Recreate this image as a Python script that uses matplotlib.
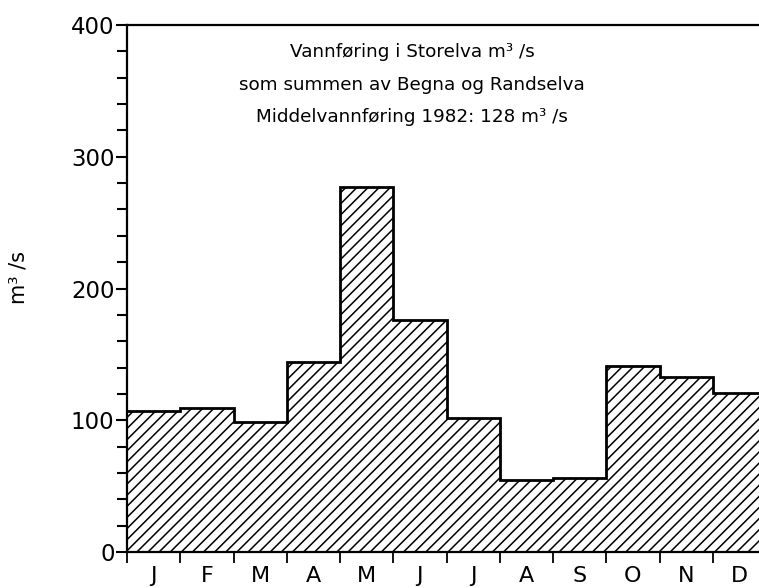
import matplotlib
matplotlib.use("Agg")
import matplotlib.pyplot as plt
import numpy as np

months: list[str] = ["J", "F", "M", "A", "M", "J", "J", "A", "S", "O", "N", "D"]
flow: list[float] = [107, 109, 99, 144, 277, 176, 102, 55, 56, 141, 133, 121]
title_lines: list[str] = [
    "Vannføring i Storelva m³ /s",
    "som summen av Begna og Randselva",
    "Middelvannføring 1982: 128 m³ /s",
]

plt.rcParams['font.family'] = ['DejaVu Sans']
plt.rcParams['hatch.linewidth'] = 1.1

fig = plt.figure(figsize=(7.59, 5.88), dpi=100)
# axes run a bit past the right edge, like the cropped original
ax = fig.add_axes([127 / 759, 1 - 552 / 588, 639 / 759, 527 / 588])

edges = np.arange(len(flow) + 1)
ax.stairs(flow, edges, fill=True, facecolor='white', edgecolor='black',
          hatch='///', linewidth=0)
ax.stairs(flow, edges, baseline=None, color='black', linewidth=2)

ax.set_xlim(0, 12)
ax.set_ylim(0, 400)

ax.spines['right'].set_visible(False)
for s in ['left', 'top', 'bottom']:
    ax.spines[s].set_linewidth(1.6)

ax.set_yticks([0, 100, 200, 300, 400])
ax.set_yticks(np.arange(0, 401, 20), minor=True)
ax.tick_params(axis='y', which='major', length=8, width=1.5, labelsize=16.5, pad=1)
ax.tick_params(axis='y', which='minor', length=7, width=1.5)

ax.set_xticks(edges[:-1])
ax.set_xticklabels([])
ax.set_xticks(edges[:-1] + 0.5, minor=True)
ax.set_xticklabels(months, minor=True)
ax.tick_params(axis='x', which='major', length=8, width=1.3)
ax.tick_params(axis='x', which='minor', length=0, labelsize=16, pad=10)

ax.set_ylabel("m³ /s", fontsize=15)
ax.yaxis.set_label_coords(-98 / 639, 0.52)

for i, line in enumerate(title_lines):
    fig.text(412 / 759, 1 - (52 + 32.5 * i) / 588, line, ha='center', va='center',
             fontsize=13.2)

fig.savefig("out.png", dpi=100)
